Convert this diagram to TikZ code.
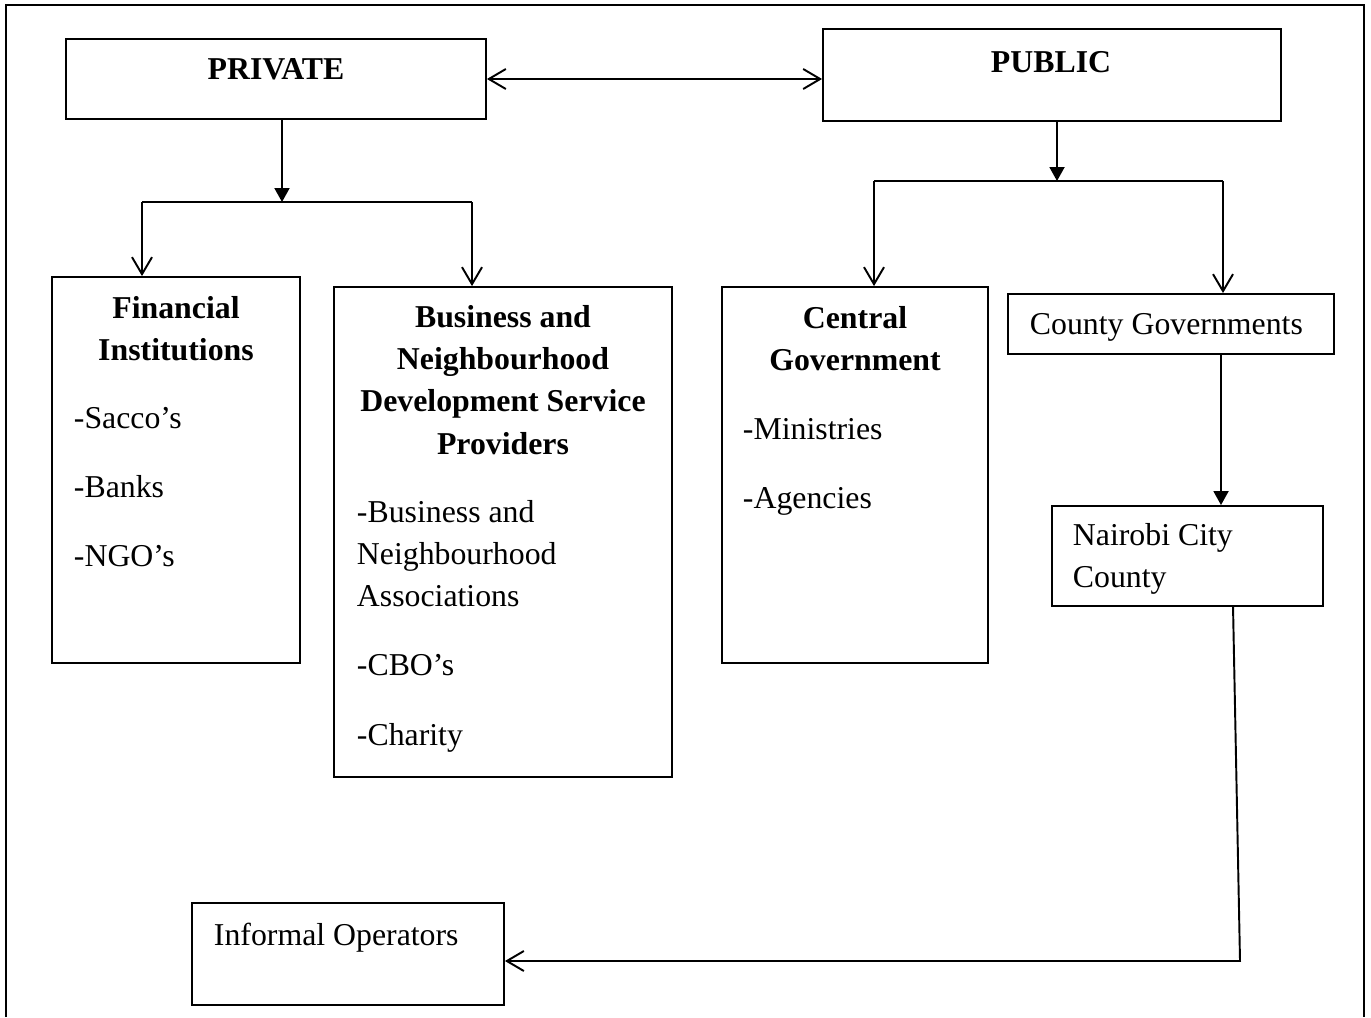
\documentclass[tikz,border=0pt]{standalone}
\usepackage{fontspec}
\setmainfont{Liberation Serif}
\usetikzlibrary{arrows.meta,positioning}
\newcommand\chartfont{\fontsize{18.1pt}{24.1pt}\selectfont}
\tikzset{
  box/.style={draw, line width=1.1pt, inner sep=0pt},
  ttl/.style={font=\chartfont\bfseries, align=flush center, anchor=base, inner sep=0pt},
  itm/.style={font=\chartfont, align=flush left, anchor=base west, inner sep=0pt},
  tri/.tip={Triangle[length=0.28cm,width=0.3cm]}
}
\begin{document}
\begin{tikzpicture}[x=0.02cm,y=-0.02cm,line width=1.1pt,
  >={Straight Barb[length=0.34cm,width=0.4cm]}]
\useasboundingbox (0,0) rectangle (1371,1017);
\draw (6,1017) -- (6,5) -- (1364,5) -- (1364,1017);

\node[box, minimum width=8.4cm, minimum height=1.6cm] (priv) at (276,79) {};
\node[box, minimum width=9.16cm, minimum height=1.84cm] (pub) at (1052,75) {};
\node[box, minimum width=4.96cm, minimum height=7.72cm] (fin) at (176,470) {};
\node[box, minimum width=6.76cm, minimum height=9.8cm] (bus) at (503,532) {};
\node[box, minimum width=5.32cm, minimum height=7.52cm] (cen) at (855,475) {};
\node[box, minimum width=6.52cm, minimum height=1.2cm] (cty) at (1171,324) {};
\node[box, minimum width=5.42cm, minimum height=2cm] (nrb) at (1187.5,556) {};
\node[box, minimum width=6.24cm, minimum height=2.04cm] (inf) at (348,954) {};

\node[ttl] (privt) at (276,80) {PRIVATE};
\node[ttl] (pubt) at (1051,72) {PUBLIC};
\node[ttl, text width=6cm] (fint) at (176,318) {Financial\\Institutions};
\node[itm, text width=4cm] (fini) at (73,428) {-Sacco’s\\[15.3pt]-Banks\\[15.3pt]-NGO’s};
\node[ttl, text width=6.6cm] (bust) at (503,327) {Business and\\Neighbourhood\\Development Service\\Providers};
\node[itm, text width=6cm] (busi) at (356,522) {-Business and\\Neighbourhood\\Associations\\[15.3pt]-CBO’s\\[15.3pt]-Charity};
\node[ttl, text width=5cm] (cent) at (855,328) {Central\\Government};
\node[itm, text width=4.5cm] (ceni) at (742,439) {-Ministries\\[15.3pt]-Agencies};
\node[itm] (ctyt) at (1029,334) {County Governments};
\node[itm, text width=5cm] (nrbt) at (1072,545) {Nairobi City\\County};
\node[itm] (inft) at (213,945) {Informal Operators};

\coordinate (pj) at (282,202);
\coordinate (pl) at (142,202);
\coordinate (pr) at (472,202);
\coordinate (uj) at (1057,181);
\coordinate (ul) at (874,181);
\coordinate (ur) at (1223,181);
\coordinate (cn) at (1221,354);
\coordinate (nb) at (1233,606);
\coordinate (nc) at (1240,961);

\draw[<->] (priv.east) -- (priv.east -| pub.west);
\draw[-tri] (pj |- priv.south) -- (pj);
\draw (pl) -- (pr);
\draw[->] (pl) -- (pl |- fin.north);
\draw[->] (pr) -- (pr |- bus.north);
\draw[-tri] (uj |- pub.south) -- (uj);
\draw (ul) -- (ur);
\draw[->] (ul) -- (ul |- cen.north);
\draw[->] (ur) -- (ur |- cty.north);
\draw[-tri] (cn) -- (cn |- nrb.north);
\draw[->] (nb) -- (nc) -- (nc -| inf.east);
\end{tikzpicture}
\end{document}
